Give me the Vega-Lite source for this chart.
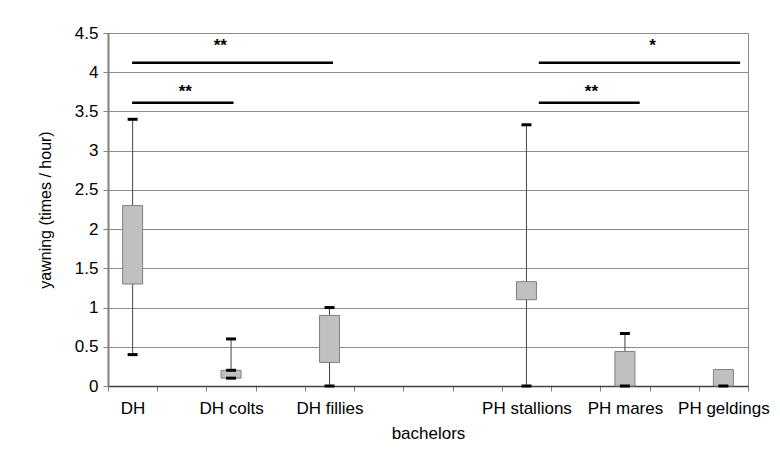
{
  "$schema": "https://vega.github.io/schema/vega-lite/v6.json",
  "width": 640,
  "height": 353,
  "autosize": "none",
  "padding": {"left": 108, "top": 33, "right": 32, "bottom": 81},
  "background": "white",
  "config": {
    "font": "Liberation Sans",
    "view": {"stroke": "#8c8c8c", "strokeWidth": 1},
    "axisY": {
      "titleFontSize": 16,
      "titleFontWeight": "normal",
      "titleColor": "#000000",
      "titlePadding": 21,
      "format": ".1~f",
      "labelFontSize": 17,
      "labelColor": "#000000",
      "labelPadding": 5,
      "labelOverlap": false,
      "labelFlush": false,
      "tickSize": 5,
      "tickColor": "#808080",
      "domainColor": "#808080",
      "domainWidth": 2,
      "grid": true,
      "gridColor": "#8c8c8c",
      "gridWidth": 1
    }
  },
  "datasets": {
    "boxes": [
      {"cat": "DH", "lo": 0.4, "q1": 1.3, "q3": 2.3, "hi": 3.4},
      {"cat": "DH colts", "lo": 0.1, "q1": 0.1, "q3": 0.2, "hi": 0.6},
      {"cat": "DH fillies", "lo": 0.0, "q1": 0.3, "q3": 0.9, "hi": 1.0},
      {"cat": "PH stallions", "lo": 0.0, "q1": 1.1, "q3": 1.33, "hi": 3.33},
      {"cat": "PH mares", "lo": 0.0, "q1": 0.0, "q3": 0.44, "hi": 0.67},
      {"cat": "PH geldings", "lo": 0.0, "q1": 0.0, "q3": 0.21, "hi": 0.21}
    ],
    "caps": [
      {"cat": "DH", "v": 3.4},
      {"cat": "DH", "v": 0.4},
      {"cat": "DH colts", "v": 0.6},
      {"cat": "DH colts", "v": 0.2},
      {"cat": "DH colts", "v": 0.1},
      {"cat": "DH fillies", "v": 1.0},
      {"cat": "DH fillies", "v": 0.0},
      {"cat": "PH stallions", "v": 3.33},
      {"cat": "PH stallions", "v": 0.0},
      {"cat": "PH mares", "v": 0.67},
      {"cat": "PH mares", "v": 0.0},
      {"cat": "PH geldings", "v": 0.0}
    ],
    "brackets": [
      {"x1": 0.49, "x2": 4.57, "y": 4.12},
      {"x1": 0.49, "x2": 2.55, "y": 3.61},
      {"x1": 8.75, "x2": 12.84, "y": 4.12},
      {"x1": 8.75, "x2": 10.8, "y": 3.61}
    ],
    "stars": [
      {"x": 2.28, "y": 4.27, "label": "**"},
      {"x": 1.57, "y": 3.68, "label": "**"},
      {"x": 11.06, "y": 4.27, "label": "*"},
      {"x": 9.82, "y": 3.68, "label": "**"}
    ]
  },
  "layer": [
    {
      "layer": [
        {
          "data": {"name": "boxes"},
          "mark": {"type": "rule", "color": "#444444", "strokeWidth": 1},
          "encoding": {
            "x": {
              "field": "cat",
              "type": "nominal",
              "scale": {
                "domain": ["DH", "_1", "DH colts", "_2", "DH fillies", "_3", "_4", "_5", "PH stallions", "_6", "PH mares", "_7", "PH geldings"],
                "paddingInner": 0,
                "paddingOuter": 0
              },
              "axis": {
                "title": "bachelors",
                "titleFontSize": 17,
                "titleFontWeight": "normal",
                "titleColor": "#000000",
                "titlePadding": 9,
                "labelFontSize": 17,
                "labelColor": "#000000",
                "labelAngle": 0,
                "labelPadding": 9,
                "labelOverlap": false,
                "labelExpr": "substring(datum.label, 0, 1) == '_' ? '' : datum.label",
                "tickBand": "extent",
                "tickSize": 5,
                "tickColor": "#808080",
                "domainColor": "#404040",
                "domainWidth": 1.5,
                "grid": false
              }
            },
            "y": {
              "field": "lo",
              "type": "quantitative",
              "scale": {"domain": [0, 4.5], "nice": false, "zero": true},
              "axis": {"title": "yawning (times / hour)", "values": [0, 0.5, 1, 1.5, 2, 2.5, 3, 3.5, 4, 4.5], "tickCount": 20}
            },
            "y2": {"field": "hi"}
          }
        },
        {
          "data": {"name": "boxes"},
          "mark": {"type": "bar", "size": 20, "fill": "#c0c0c0", "stroke": "#808080", "strokeWidth": 1},
          "encoding": {
            "x": {"field": "cat", "type": "nominal"},
            "y": {"field": "q1", "type": "quantitative", "axis": {"title": "yawning (times / hour)", "values": [0, 0.5, 1, 1.5, 2, 2.5, 3, 3.5, 4, 4.5], "tickCount": 20}},
            "y2": {"field": "q3"}
          }
        },
        {
          "data": {"name": "caps"},
          "mark": {"type": "tick", "size": 10, "thickness": 3, "color": "#000000", "opacity": 1},
          "encoding": {
            "x": {"field": "cat", "type": "nominal"},
            "y": {"field": "v", "type": "quantitative", "axis": {"title": "yawning (times / hour)", "values": [0, 0.5, 1, 1.5, 2, 2.5, 3, 3.5, 4, 4.5], "tickCount": 20}}
          }
        }
      ]
    },
    {
      "layer": [
        {
          "data": {"name": "brackets"},
          "mark": {"type": "rule", "color": "#000000", "strokeWidth": 2.5},
          "encoding": {
            "x": {"field": "x1", "type": "quantitative", "scale": {"domain": [0, 13], "nice": false, "zero": false}, "axis": null},
            "x2": {"field": "x2"},
            "y": {"field": "y", "type": "quantitative", "axis": {"title": "yawning (times / hour)", "values": [0, 0.5, 1, 1.5, 2, 2.5, 3, 3.5, 4, 4.5], "tickCount": 20}}
          }
        },
        {
          "data": {"name": "stars"},
          "mark": {"type": "text", "fontSize": 17, "fontWeight": "bold", "align": "center", "baseline": "alphabetic", "color": "#000000"},
          "encoding": {
            "x": {"field": "x", "type": "quantitative"},
            "y": {"field": "y", "type": "quantitative", "axis": {"title": "yawning (times / hour)", "values": [0, 0.5, 1, 1.5, 2, 2.5, 3, 3.5, 4, 4.5], "tickCount": 20}},
            "text": {"field": "label"}
          }
        }
      ]
    }
  ],
  "resolve": {"scale": {"x": "independent"}}
}
